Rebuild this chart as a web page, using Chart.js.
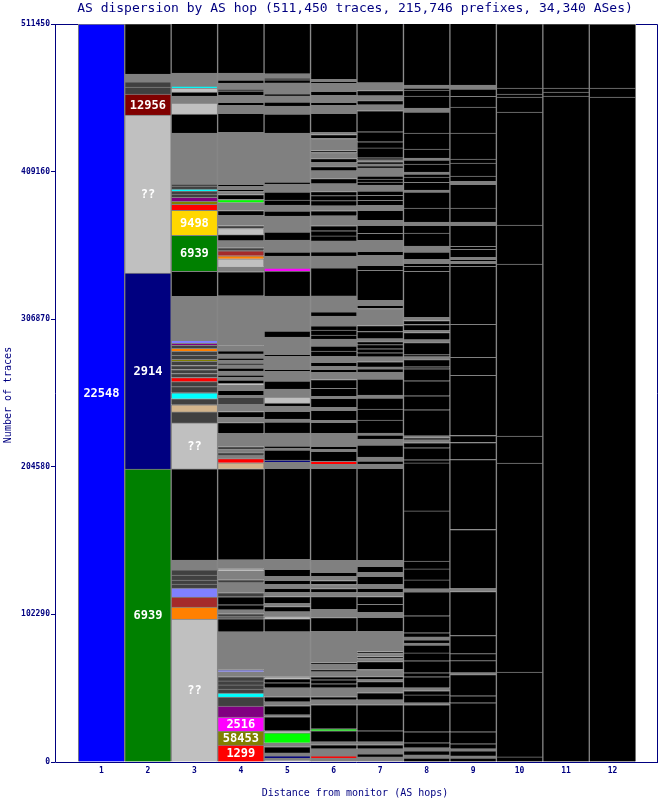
<!DOCTYPE html>
<html>
<head>
<meta charset="utf-8">
<script src="https://cdn.jsdelivr.net/npm/chart.js@4.4.1/dist/chart.umd.min.js"></script>
<style>
  html, body { margin: 0; padding: 0; background: #fff; }
  #wrap { width: 659px; height: 800px; position: relative; }
</style>
</head>
<body>
<div id="wrap"><canvas id="myChart"></canvas></div>
<script>
// traces per AS at each hop, bottom of the stack first: [traces, AS]
// 'k' = other AS, 'g' = many small ASes, 'd' and colour names = unlabelled ASes
const hops = [1, 2, 3, 4, 5, 6, 7, 8, 9, 10, 11, 12];
const yTicks = [0, 102290, 204580, 306870, 409160, 511450];

const hop1 = [[511450, '22548']];
const hop2 = [[203000, '6939'], [135800, '2914'], [109500, '??'], [14600, '12956'], [4900, 'd'], [3500, 'd'], [5500, 'g'], [34700, 'k']];
const hop3 = [[99100, '??'], [8300, 'orange'], [6900, 'brown'], [6200, 'lav'], [2800, 'd'], [2800, 'd'], [3500, 'd'], [3500, 'd'], [6900, 'g'], [63100, 'k'],
  [31900, '??'], [7600, 'd'], [4900, 'tan'], [4200, 'd'], [4200, 'cyan'], [4200, 'd'], [3500, 'd'], [2800, 'red'], [2800, 'd'], [2800, 'd'], [2800, 'd'], [2800, 'd'], [1400, 'olive'], [2800, 'd'], [2800, 'd'], [2100, 'orange'], [2100, 'd'], [1400, 'purple'], [2100, 'lav'], [30500, 'g'], [17300, 'k'],
  [24900, '6939'], [17300, '9498'], [4200, 'red'], [2100, 'olive'], [2800, 'purple'], [2100, 'd'], [2100, 'd'], [1400, 'cyan'], [2100, 'd'], [1400, 'd'], [35300, 'g'], [13200, 'k'], [7600, '??'], [4900, 'g'], [2800, 'k'], [2800, '??'], [1400, 'cyan'], [3500, 'g'], [5500, 'g'], [34700, 'k']];
const hop4 = [[11800, '1299'], [9700, '58453'], [9700, '2516'], [7600, 'purple'], [6200, 'd'], [2800, 'cyan'], [2800, 'd'], [2800, 'd'], [2800, 'd'], [2800, 'd'], [3500, 'g'], [1400, 'lav'], [26300, 'g'], [9000, 'k'], [1400, 'd'], [2100, 'd'], [2800, 'g'], [3500, 'k'], [5500, 'k'], [2800, 'd'], [6900, 'g'], [2100, 'd'], [6200, 'g'], [1400, '??'], [6200, 'g'], [63100, 'k'], [4200, 'tan'], [2800, 'red'],
  [2100, 'g'], [2100, 'd'], [2100, 'g'], [2100, 'd'], [9000, 'g'], [7600, 'k'], [3500, 'g'], [4200, 'k'], [4900, 'g'], [4900, 'd'], [1400, 'g'], [3500, 'k'], [3500, 'g'], [1400, '??'], [2100, 'k'],
  [2100, 'g'], [1400, 'k'], [2800, 'g'], [2100, 'k'], [2100, 'g'], [1400, 'd'], [2100, 'g'], [1400, 'k'], [2800, 'g'], [2100, 'k'], [3500, 'g'], [34700, 'g'], [16600, 'k'],
  [3500, 'g'], [5500, '??'], [2100, 'orange'], [3500, 'brown'], [2100, 'd'], [4900, 'g'], [4200, 'k'], [4200, '??'], [2100, 'd'], [6900, 'g'], [3500, 'k'], [5500, 'g'], [2100, 'lime'], [3500, 'k'], [2100, 'g'], [1400, 'k'], [2100, 'g'], [1400, 'k'], [1400, 'g'], [34700, 'g'], [13200, 'k'], [5500, 'g'], [2100, 'k'], [4900, 'g'], [2800, 'k'], [1400, 'd'], [4200, 'g'], [2100, 'k'], [4900, 'g'], [35300, 'k']];
const hop5 = [[1400, '??'], [1400, 'g'], [1400, 'navy'], [2100, 'g'], [4200, 'k'], [2800, 'g'], [6900, 'lime'], [1400, '??'], [9700, 'k'], [1400, 'g'], [6200, 'k'], [2800, 'g'], [3500, 'k'], [6200, 'g'], [3500, 'k'], [2800, 'k'], [1400, '??'], [31200, 'g'], [9000, 'k'], [1400, '??'], [3500, 'g'], [3500, 'k'], [2100, 'g'], [4900, 'k'], [2800, 'g'], [2800, 'k'], [2800, 'g'], [2800, 'k'], [2800, 'g'], [4900, 'k'], [6900, 'g'], [63100, 'k'], [4200, 'g'], [1400, 'navy'],
  [6900, 'k'], [1400, 'g'], [1400, 'k'], [9000, 'g'], [7600, 'k'], [2100, 'g'], [5500, 'k'], [3500, 'g'], [2100, 'k'], [4200, '??'], [5500, 'g'], [5500, 'k'], [6900, 'g'], [1400, 'k'], [9000, 'g'], [1400, 'k'], [11800, 'g'], [4200, 'k'], [24300, 'g'], [17300, 'k'],
  [2100, 'magenta'], [8300, 'g'], [2800, 'k'], [8300, 'g'], [5500, 'k'], [3500, 'g'], [7600, 'g'], [3500, 'k'], [4200, 'g'], [3500, 'k'], [5500, 'k'], [5500, 'g'], [1400, 'k'], [34000, 'g'], [13200, 'k'], [5500, 'g'], [2800, 'k'], [4200, 'g'], [1400, 'k'], [7600, 'g'], [2100, 'k'], [1400, 'd'], [2800, 'g'], [35300, 'k']];
const hop6 = [[2800, 'g'], [1400, 'red'], [4900, 'g'], [2800, 'k'], [2100, 'g'], [7600, 'k'], [1400, 'lime'], [16600, 'k'], [3500, 'g'], [2100, 'k'], [6200, 'g'], [2800, 'k'], [2800, 'k'], [2100, 'k'], [3500, 'g'], [1400, 'k'], [3500, 'g'], [1400, 'k'], [21500, 'g'], [9700, 'k'], [5500, 'g'], [9000, 'k'], [2800, 'g'], [2800, 'k'], [2800, 'g'], [2800, 'k'], [2800, 'g'], [2800, 'k'], [8300, 'g'], [63800, 'k'], [2800, 'g'], [2100, 'red'],
  [6900, 'k'], [1400, 'g'], [2100, 'k'], [9000, 'g'], [7600, 'k'], [1400, 'g'], [6900, 'k'], [2100, 'g'], [6200, 'k'], [1400, 'g'], [5500, 'k'], [6200, 'k'], [4900, 'g'], [2100, 'k'], [2100, 'g'], [2800, 'k'], [4200, 'g'], [3500, 'k'], [3500, 'k'], [4900, 'g'], [2800, 'k'], [3500, 'k'], [2800, 'k'], [6900, 'g'], [2800, 'k'], [11100, 'g'], [19400, 'k'],
  [8300, 'g'], [2800, 'k'], [7600, 'g'], [3500, 'k'], [3500, 'k'], [3500, 'k'], [6900, 'g'], [3500, 'k'], [3500, 'g'], [3500, 'k'], [3500, 'k'], [2800, 'k'], [5500, 'g'], [3500, 'k'], [5500, 'g'], [2800, 'k'], [2800, 'g'], [2800, 'k'], [4200, 'g'], [1400, 'k'], [8300, 'g'], [2800, 'k'], [1400, 'g'], [13200, 'k'], [5500, 'g'], [2100, 'k'], [4900, 'g'], [2800, 'k'], [5500, 'g'], [1400, 'k'], [1400, 'g'], [39500, 'k']];
const hop7 = [[3500, 'g'], [2100, 'k'], [3500, 'g'], [2800, 'k'], [2100, 'g'], [7600, 'k'], [18000, 'k'], [3500, 'g'], [4900, 'k'], [3500, 'g'], [4200, 'k'], [1400, 'g'], [2100, 'k'], [4900, 'g'], [5500, 'k'], [2100, 'g'], [1400, 'k'], [2100, 'g'], [1400, 'k'], [2100, 'g'], [11800, 'g'], [9700, 'k'], [3500, 'g'], [5500, 'k'], [5500, 'k'], [2800, 'g'], [2800, 'k'], [2800, 'g'], [5500, 'k'], [2800, 'g'], [4200, 'k'], [4200, 'g'], [63800, 'k'],
  [2800, 'g'], [2100, 'k'], [2800, 'g'], [8300, 'k'], [4200, 'g'], [2800, 'k'], [1400, 'g'],
  [9000, 'k'], [7600, 'k'], [7600, 'k'], [2100, 'g'], [11100, 'k'], [4900, 'g'], [2100, 'k'], [1400, 'g'], [3500, 'k'], [3500, 'g'], [2800, 'k'], [2800, 'k'], [2800, 'k'], [2100, 'k'], [2100, 'g'], [4900, 'k'], [4200, 'k'], [11800, 'g'], [2100, 'k'], [3500, 'g'], [20800, 'k'],
  [3500, 'k'], [6900, 'g'], [2800, 'k'], [7600, 'g'], [4900, 'k'], [5500, 'k'], [3500, 'g'], [6900, 'k'], [3500, 'g'], [3500, 'k'], [3500, 'k'], [2800, 'k'], [4200, 'g'], [2100, 'k'], [2100, 'k'], [2100, 'k'], [4200, 'g'], [1400, 'g'], [1400, 'k'], [1400, 'g'], [1400, 'k'], [1400, 'g'], [1400, 'k'], [6900, 'k'], [4200, 'k'], [6900, 'k'], [14600, 'k'], [4200, 'g'], [2800, 'k'], [3500, 'g'], [3500, 'k'], [5500, 'g'], [42300, 'k']];
const hop8 = [[2800, 'k'], [2100, 'g'], [2800, 'k'], [2100, 'g'], [3500, 'k'], [7600, 'k'], [18700, 'k'], [1400, 'g'], [5500, 'k'], [2800, 'k'], [2100, 'g'], [7600, 'k'], [2800, 'k'], [8300, 'k'], [5500, 'k'], [5500, 'k'], [1400, 'g'], [2100, 'k'], [2100, 'g'], [2800, 'k'], [11800, 'k'], [16600, 'k'], [2100, 'g'], [6200, 'k'], [7600, 'k'], [5500, 'k'], [34700, 'k'], [33300, 'k'],
  [2100, 'k'], [8300, 'k'], [3500, 'k'], [2100, 'g'], [1400, 'k'], [1400, 'g'], [18000, 'k'], [9700, 'k'], [10400, 'k'], [8300, 'k'], [1400, 'k'], [4900, 'k'], [2100, 'g'], [1400, 'k'], [8300, 'k'], [2100, 'g'], [4900, 'k'], [1400, 'g'], [4200, 'k'], [2800, 'k'], [2100, 'g'], [31900, 'k'],
  [3500, 'k'], [2100, 'k'], [2800, 'g'], [4900, 'k'], [4200, 'g'], [9000, 'k'], [5500, 'k'], [2100, 'g'], [9700, 'k'], [11100, 'k'], [1400, 'g'], [5500, 'k'], [3500, 'k'], [2100, 'k'], [1400, 'g'], [5500, 'k'], [2800, 'k'], [1400, 'g'], [6200, 'k'], [11100, 'k'], [14600, 'k'], [2800, 'g'], [8300, 'k'], [4200, 'k'], [1400, 'k'], [2100, 'g'], [43000, 'k']];
const hop9 = [[2800, 'k'], [1400, 'g'], [3500, 'k'], [1400, 'g'], [3500, 'k'], [8300, 'k'], [20100, 'k'], [4900, 'k'], [14600, 'k'], [1400, 'g'], [8300, 'k'], [4900, 'k'], [12500, 'k'], [30500, 'k'], [2100, 'g'], [40900, 'k'], [48500, 'k'], [11800, 'k'], [4900, 'k'], [41600, 'k'], [12500, 'k'], [22900, 'k'], [40200, 'k'],
  [2100, 'k'], [1400, 'g'], [1400, 'k'], [1400, 'g'], [5500, 'k'], [2100, 'k'], [14600, 'k'], [2100, 'g'], [9700, 'k'], [16600, 'k'], [2100, 'g'], [3500, 'k'], [9000, 'k'], [2800, 'k'], [18000, 'k'], [18000, 'k'], [7600, 'k'], [4900, 'k'], [2800, 'g'], [43000, 'k']];
const hop10 = [[3500, 'k'], [58900, 'k'], [144800, 'k'], [18700, 'k'], [119200, 'k'], [27000, 'k'], [78300, 'k'], [10400, 'k'], [2100, 'k'], [4200, 'k'], [44400, 'k']];
const hop11 = [[461500, 'k'], [2800, 'k'], [2800, 'k'], [44400, 'k']];
const hop12 = [[460800, 'k'], [6200, 'k'], [44400, 'k']];

const asColors = {
  '22548': '#0000ff', '6939': '#008000', '2914': '#000080', '??': '#c0c0c0', '12956': '#800000',
  '9498': '#ffd700', '1299': '#ff0000', '58453': '#808000', '2516': '#ff00ff',
  k: '#000000', g: '#808080', d: '#404040', red: '#ff0000', orange: '#ff8000', brown: '#a52a2a',
  lav: '#8080ff', tan: '#d2b48c', cyan: '#00ffff', olive: '#808000', purple: '#800080',
  lime: '#00ff00', magenta: '#ff00ff', navy: '#000080'
};

const NAVY = '#000080';
const MONO = "'DejaVu Sans Mono', 'Liberation Mono', monospace";

const hopCols = [hop1, hop2, hop3, hop4, hop5, hop6, hop7, hop8, hop9, hop10, hop11, hop12];
const maxSeg = Math.max(...hopCols.map(c => c.length));
const datasets = [];
for (let j = 0; j < maxSeg; j++) {
  const pts = [];
  const colors = [];
  hopCols.forEach((col, i) => {
    if (col[j]) {
      pts.push({ x: hops[i], y: col[j][0], key: col[j][1] });
      colors.push(asColors[col[j][1]]);
    }
  });
  datasets.push({
    data: pts,
    backgroundColor: colors,
    borderColor: '#808080',
    borderWidth: 1,
    borderSkipped: 'start',
    barPercentage: 1,
    categoryPercentage: 1,
  });
}

const framePlugin = {
  id: 'frame',
  beforeDatasetsDraw(chart) {
    const { ctx, chartArea: a } = chart;
    ctx.save();
    ctx.strokeStyle = NAVY;
    ctx.lineWidth = 1;
    ctx.beginPath();
    ctx.moveTo(a.left, a.top + 0.5);
    ctx.lineTo(a.right - 1.5, a.top + 0.5);
    ctx.lineTo(a.right - 1.5, a.bottom);
    ctx.stroke();
    ctx.restore();
  },
  afterDatasetsDraw(chart) {
    const { ctx, chartArea: a } = chart;
    ctx.save();
    // AS labels inside the big segments
    ctx.fillStyle = '#ffffff';
    ctx.font = 'bold 12px ' + MONO;
    ctx.textAlign = 'center';
    ctx.textBaseline = 'middle';
    chart.data.datasets.forEach((ds, j) => {
      chart.getDatasetMeta(j).data.forEach((el, k) => {
        const key = ds.data[k].key;
        if (!/^(\d+|\?\?)$/.test(key)) return;
        if (Math.abs(el.base - el.y) < 12) return;
        ctx.fillText(key, el.x, (el.y + el.base) / 2 + 1);
      });
    });
    // left and bottom axis lines
    ctx.strokeStyle = NAVY;
    ctx.lineWidth = 1;
    ctx.beginPath();
    ctx.moveTo(a.left + 0.5, a.top);
    ctx.lineTo(a.left + 0.5, a.bottom + 0.5);
    ctx.lineTo(a.right - 1, a.bottom + 0.5);
    ctx.stroke();
    ctx.restore();
  },
  afterDraw(chart) {
    const { ctx } = chart;
    ctx.save();
    ctx.fillStyle = NAVY;
    ctx.textAlign = 'center';
    ctx.textBaseline = 'middle';
    ctx.font = '13px ' + MONO;
    ctx.fillText('AS dispersion by AS hop (511,450 traces, 215,746 prefixes, 34,340 ASes)', 355, 9);
    ctx.font = '10px ' + MONO;
    ctx.fillText('Distance from monitor (AS hops)', 355, 793);
    ctx.translate(8, 395);
    ctx.rotate(-Math.PI / 2);
    ctx.fillText('Number of traces', 0, 0);
    ctx.restore();
  }
};

new Chart(document.getElementById('myChart').getContext('2d'), {
  type: 'bar',
  data: { datasets },
  options: {
    responsive: true,
    maintainAspectRatio: false,
    animation: false,
    events: [],
    layout: { padding: { top: 24, right: 0, left: 0, bottom: 0 } },
    plugins: { legend: { display: false }, tooltip: { enabled: false }, title: { display: false } },
    scales: {
      x: {
        type: 'linear',
        offset: false,
        stacked: true,
        min: 0,
        max: 13,
        afterBuildTicks: s => { s.ticks = hops.map(v => ({ value: v })); },
        afterFit: s => { s.height = 38; },
        grid: { display: false, drawTicks: false },
        border: { display: false },
        ticks: {
          padding: 4,
          color: NAVY,
          font: { family: MONO, size: 8, weight: 'bold' },
          callback: v => String(v),
          maxRotation: 0,
        },
      },
      y: {
        stacked: true,
        min: 0,
        max: 511450,
        afterBuildTicks: s => { s.ticks = yTicks.map(v => ({ value: v })); },
        afterFit: s => { s.width = 55; },
        grid: { display: true, drawOnChartArea: false, drawTicks: true, tickLength: 4, color: NAVY },
        border: { display: false },
        ticks: {
          padding: 1,
          color: NAVY,
          font: { family: MONO, size: 8, weight: 'bold' },
          callback: v => String(v),
        },
      },
    },
  },
  plugins: [framePlugin],
});
</script>
</body>
</html>
